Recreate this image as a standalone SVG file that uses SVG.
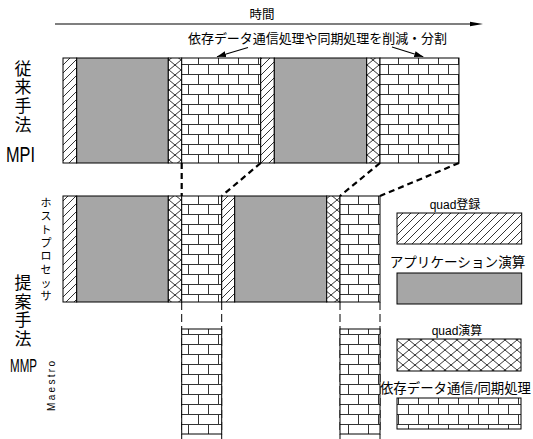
<svg xmlns="http://www.w3.org/2000/svg" width="533" height="439" viewBox="0 0 533 439">
<style>
.jp{font-family:"Liberation Sans","Noto Sans CJK JP",sans-serif;fill:#000}
.seg{stroke:#000;stroke-width:1}
.gray{fill:#a6a6a6}
.hatch{fill:url(#hatch)}
.cross{fill:url(#cross)}
.brick{fill:url(#brick)}
.thick{stroke:#000;stroke-width:2.2;stroke-dasharray:6 4;fill:none}
.thin{stroke:#000;stroke-width:1;stroke-dasharray:8 4;fill:none}
</style>
<defs>
<pattern id="hatch" patternUnits="userSpaceOnUse" width="8" height="8">
<rect width="8" height="8" fill="#fff"/>
<path d="M-2,2 L2,-2 M0,8 L8,0 M6,10 L10,6" stroke="#000" stroke-width="0.8"/>
</pattern>
<pattern id="cross" patternUnits="userSpaceOnUse" width="12" height="10" x="1" y="0">
<rect width="12" height="10" fill="#fff"/>
<path d="M0,0 L12,10 M12,0 L0,10" stroke="#000" stroke-width="0.8"/>
</pattern>
<pattern id="brick" patternUnits="userSpaceOnUse" width="20" height="20" x="8" y="4">
<rect width="20" height="20" fill="#fff"/>
<path d="M0,0.5 H20 M0,10.5 H20 M0.5,0 V10.5 M10.5,10.5 V20" stroke="#333" stroke-width="1"/>
</pattern>
<marker id="ah" markerWidth="10" markerHeight="8" refX="9" refY="4" orient="auto" markerUnits="userSpaceOnUse">
<path d="M0,1 L9,4 L0,7 Z" fill="#000"/>
</marker>
</defs>
<rect width="533" height="439" fill="#fff"/>

<g id="time-axis">
<text class="jp" x="262" y="19" font-size="12.5" text-anchor="middle">時間</text>
<line x1="55" y1="24" x2="471" y2="24" stroke="#000" stroke-width="1.2"/>
<polygon points="470,21.7 483,24 470,26.3" fill="#000"/>
</g>

<g id="annotation">
<text class="jp" x="188" y="43" font-size="13" textLength="259">依存データ通信処理や同期処理を削減・分割</text>
</g>

<g id="labels">
<g id="label-conventional" class="jp" font-size="17" text-anchor="middle">
<text x="23" y="75">従</text>
<text x="23" y="93">来</text>
<text x="23" y="111.5">手</text>
<text x="23" y="130.5">法</text>
</g>
<text class="jp" x="6" y="162" font-size="22" textLength="29" lengthAdjust="spacingAndGlyphs">MPI</text>
<g id="label-host" class="jp" font-size="11" text-anchor="middle">
<text x="46" y="207">ホ</text>
<text x="46" y="220.3">ス</text>
<text x="46" y="233.6">ト</text>
<text x="46" y="246.9">プ</text>
<text x="46" y="260.2">ロ</text>
<text x="46" y="273.5">セ</text>
<text x="46" y="286.8">ッ</text>
<text x="46" y="300">サ</text>
</g>
<g id="label-proposed" class="jp" font-size="17" text-anchor="middle">
<text x="23" y="289">提</text>
<text x="23" y="307.5">案</text>
<text x="23" y="326">手</text>
<text x="23" y="345">法</text>
</g>
<text class="jp" x="10" y="372" font-size="19" textLength="27" lengthAdjust="spacingAndGlyphs">MMP</text>
<text class="jp" transform="translate(55,411) rotate(-90)" font-size="10" textLength="50">Maestro</text>
</g>

<g id="row-mpi">
<rect id="mpi-quad-reg-1" class="seg hatch" x="63" y="58" width="13.7" height="105"/>
<rect id="mpi-app-1" class="seg gray" x="76.7" y="58" width="91.6" height="105"/>
<rect id="mpi-quad-1" class="seg cross" x="168.3" y="58" width="13.4" height="105"/>
<rect id="mpi-comm-1" class="seg brick" x="181.7" y="58" width="79" height="105"/>
<rect id="mpi-quad-reg-2" class="seg hatch" x="260.7" y="58" width="13.6" height="105"/>
<rect id="mpi-app-2" class="seg gray" x="274.3" y="58" width="92.4" height="105"/>
<rect id="mpi-quad-2" class="seg cross" x="366.7" y="58" width="13.3" height="105"/>
<rect id="mpi-comm-2" class="seg brick" x="380" y="58" width="79" height="105"/>
</g>

<g id="row-host">
<rect id="host-quad-reg-1" class="seg hatch" x="63" y="196" width="13.7" height="106"/>
<rect id="host-app-1" class="seg gray" x="76.7" y="196" width="91.6" height="106"/>
<rect id="host-quad-1" class="seg cross" x="168.3" y="196" width="13.4" height="106"/>
<rect id="host-comm-1" class="seg brick" x="181.7" y="196" width="40" height="106"/>
<rect id="host-quad-reg-2" class="seg hatch" x="221.7" y="196" width="13" height="106"/>
<rect id="host-app-2" class="seg gray" x="234.7" y="196" width="92" height="106"/>
<rect id="host-quad-2" class="seg cross" x="326.7" y="196" width="13.3" height="106"/>
<rect id="host-comm-2" class="seg brick" x="340" y="196" width="40" height="106"/>
</g>

<g id="connectors">
<line class="thin" x1="181.7" y1="302" x2="181.7" y2="439"/>
<line class="thin" x1="221.7" y1="302" x2="221.7" y2="439"/>
<line class="thin" x1="340" y1="302" x2="340" y2="439"/>
<line class="thin" x1="380" y1="302" x2="380" y2="439"/>
<line class="thick" x1="181.7" y1="163" x2="181.7" y2="196"/>
<line class="thick" x1="260.7" y1="163" x2="221.7" y2="196"/>
<line class="thick" x1="380" y1="163" x2="340" y2="196"/>
<line class="thick" x1="459" y1="163" x2="380" y2="196"/>
<line x1="248" y1="47.5" x2="217" y2="56.7" stroke="#000" stroke-width="1.1" marker-end="url(#ah)"/>
<line x1="392" y1="47" x2="423.3" y2="56.7" stroke="#000" stroke-width="1.1" marker-end="url(#ah)"/>
</g>

<g id="row-maestro">
<rect id="maestro-comm-1" class="seg brick" x="181.7" y="329" width="40" height="105"/>
<rect id="maestro-comm-2" class="seg brick" x="340" y="329" width="40" height="105"/>
</g>

<g id="legend">
<g id="legend-quad-reg">
<text class="jp" x="455" y="209" font-size="12" text-anchor="middle">quad登録</text>
<rect class="seg hatch" x="397" y="213" width="124.7" height="31"/>
</g>
<g id="legend-app">
<text class="jp" x="457.5" y="267" font-size="13.6" text-anchor="middle">アプリケーション演算</text>
<rect class="seg gray" x="397" y="273" width="124.7" height="31"/>
</g>
<g id="legend-quad">
<text class="jp" x="457" y="335" font-size="12" text-anchor="middle">quad演算</text>
<rect class="seg cross" x="397" y="339" width="124" height="32"/>
</g>
<g id="legend-comm">
<text class="jp" x="455.5" y="393" font-size="13.4" text-anchor="middle">依存データ通信/同期処理</text>
<rect class="seg brick" x="397" y="398" width="124" height="31"/>
</g>
</g>
</svg>
